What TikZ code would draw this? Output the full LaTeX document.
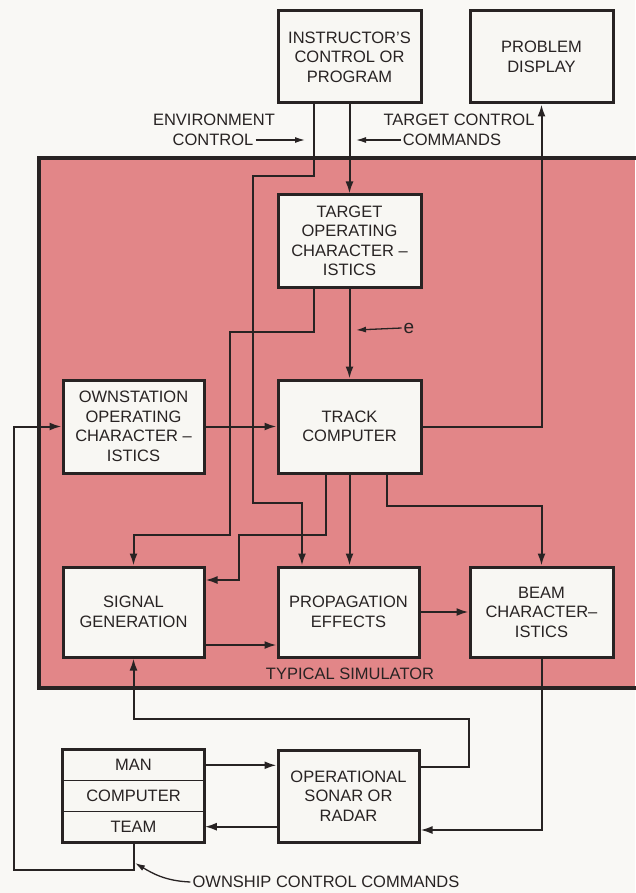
\documentclass[tikz,border=0pt]{standalone}
\usepackage{fontspec}
\setmainfont{Liberation Sans}
\usetikzlibrary{arrows.meta}

\definecolor{simred}{RGB}{226,134,136}
\definecolor{paper}{RGB}{249,248,245}
\definecolor{boxfill}{RGB}{248,247,243}
\definecolor{ink}{RGB}{40,35,35}

\begin{document}
\begin{tikzpicture}[x=1pt,y=-1pt,
        every node/.style={text=ink},
        blk/.style={draw=ink, line width=3pt, fill=boxfill, align=center,
            inner sep=0pt, minimum width=143pt, minimum height=92pt,
            font=\fontsize{16.5}{19.5}\selectfont},
        part/.style={draw=ink, line width=1.5pt, fill=boxfill, inner sep=0pt,
            minimum width=141pt, minimum height=30.67pt,
            font=\fontsize{16.5}{19.5}\selectfont},
        lbl/.style={inner sep=2pt, font=\fontsize{16.5}{19.5}\selectfont},
        conn/.style={draw=ink, line width=2pt, -{Latex[length=12pt,width=8pt]}},
        tip/.style={draw=ink, line width=1.3pt, -{Latex[length=10pt,width=6pt]}}]
    \useasboundingbox[fill=paper] (0,0) rectangle (635,893);
    % simulator area
    \fill[simred] (39,158) rectangle (635,688);
    \draw[ink, line width=3.5pt] (636,158) -- (39,158) -- (39,688) -- (636,688);

    % boxes
    \node[blk] (instr) at (349.5,57) {INSTRUCTOR'S\\CONTROL OR\\PROGRAM};
    \node[blk] (display) at (541.5,57) {PROBLEM\\DISPLAY};
    \node[blk] (target) at (349.5,241) {TARGET\\OPERATING\\CHARACTER --\\ISTICS};
    \node[blk, minimum width=141pt, minimum height=93pt] (own) at (133.5,426.5) {OWNSTATION\\OPERATING\\CHARACTER --\\ISTICS};
    \node[blk, minimum height=93pt] (track) at (349.5,426.5) {TRACK\\COMPUTER};
    \node[blk, minimum width=141pt, minimum height=90pt] (siggen) at (133.5,612) {SIGNAL\\GENERATION};
    \node[blk, minimum width=141pt, minimum height=90pt] (prop) at (348.5,612) {PROPAGATION\\EFFECTS};
    \node[blk, minimum height=90pt] (beam) at (541.5,612) {BEAM\\CHARACTER--\\ISTICS};
    \node[part] (man) at (133.5,765.3) {MAN};
    \node[part] (comp) at (133.5,796) {COMPUTER};
    \node[part] (team) at (133.5,826.7) {TEAM};
    \draw[ink, line width=3pt] (man.north west) rectangle (team.south east);
    \node[blk, minimum width=141pt] (opsr) at (348.5,796) {OPERATIONAL\\SONAR OR\\RADAR};

    % labels
    \node[lbl] (env1) at (214,120) {ENVIRONMENT};
    \node[lbl] (env2) at (213,140) {CONTROL};
    \coordinate (envtip) at (305,140);
    \node[lbl] (tcc1) at (459,120) {TARGET CONTROL};
    \node[lbl] (tcc2) at (452,140) {COMMANDS};
    \coordinate (tcctip) at (356,140);
    \node[lbl, font=\fontsize{19}{20}\selectfont] (elbl) at (409,328) {e};
    \coordinate (etip) at (356,330);
    \node[lbl] (simlbl) at (350,674) {TYPICAL SIMULATOR};
    \node[lbl] (ownship) at (326,882) {OWNSHIP CONTROL COMMANDS};
    \coordinate (ownshiptip) at (135,863);

    \draw[tip] (env2.east) -- (envtip);
    \draw[tip] (tcc2.west) -- (tcctip);
    \draw[tip] (elbl.west) -- (etip);
    \draw[tip] (ownship.west) .. controls (165,881) and (152,873) .. (ownshiptip);

    % connectors
    \draw[conn] ([xshift=-35.5pt]instr.south) -- ++(0,72) -| (253,503) -| ([xshift=-46.5pt]prop.north);
    \draw[conn] (instr.south) -- (target.north);
    \draw[conn] ([xshift=-35.5pt]target.south) |- (230,332) |- (133.5,535) -- (siggen.north);
    \draw[conn] (target.south) -- (track.north);
    \draw[conn] (own.east) -- (track.west);
    \draw[conn] (track.east) -| (display.south);
    \draw[conn] (team.south) |- (14,870) |- (own.west);
    \draw[conn] ([xshift=-23.5pt]track.south) |- (239,535) |- ([yshift=32pt]siggen.east);
    \draw[conn] (track.south) -- (track.south |- prop.north);
    \draw[conn] ([xshift=37.5pt]track.south) -- ++(0,31) -| (beam.north);
    \draw[conn] ([yshift=-33pt]siggen.east) -- ([yshift=-33pt]siggen.east -| prop.west);
    \draw[conn] (prop.east) -- (beam.west);
    \draw[conn] ([yshift=29pt]opsr.east) -| (469,719) -| (siggen.south);
    \draw[conn] (beam.south) |- ([yshift=-34pt]opsr.east);
    \draw[conn] (man.east) -- (man.east -| opsr.west);
    \draw[conn] (opsr.west |- team.east) -- (team.east);
\end{tikzpicture}
\end{document}
